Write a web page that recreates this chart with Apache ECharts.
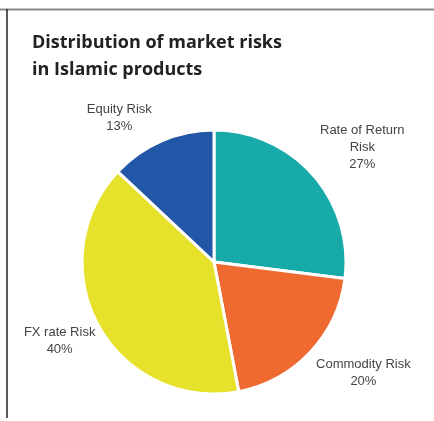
<!DOCTYPE html>
<html>
<head>
<meta charset="utf-8">
<script src="https://cdn.jsdelivr.net/npm/echarts@6/dist/echarts.min.js"></script>
<style>
html,body{margin:0;padding:0;background:#fff;}
#c{width:434px;height:421px;}
</style>
</head>
<body>
<div id="c"></div>
<script>
const categories = ['Rate of Return\nRisk', 'Commodity Risk', 'FX rate Risk', 'Equity Risk'];
const values = [27, 20, 40, 13];
const colors = ['#17aaa8', '#ef6a30', '#e6e22b', '#2157a6'];
const titleLines = ['Distribution of market risks', 'in Islamic products'];

const labelShift = [[12, 7], [17, -13], [7, -8], [-21, 25]];

const data = categories.map((c, i) => ({ name: c, value: values[i], itemStyle: { color: colors[i] } }));

const chart = echarts.init(document.getElementById('c'), null, { renderer: 'canvas' });
chart.setOption({
  animation: false,
  title: {
    text: titleLines.join('\n'),
    left: 27, top: 24,
    textStyle: { fontFamily: 'Open Sans', fontWeight: 700, fontSize: 18, color: '#222', lineHeight: 27 }
  },
  graphic: [
    { type: 'line', shape: { x1: 0, y1: 9.5, x2: 434, y2: 9.5 }, style: { stroke: '#8a8a8a', lineWidth: 2 } },
    { type: 'line', shape: { x1: 7, y1: 9, x2: 7, y2: 418 }, style: { stroke: '#222', lineWidth: 1.5 } }
  ],
  series: [
    {
      type: 'pie',
      center: [214, 262],
      radius: [0, 132],
      startAngle: 90,
      clockwise: true,
      silent: true,
      label: { show: false },
      labelLine: { show: false },
      itemStyle: { borderColor: '#fff', borderWidth: 3 },
      data: data
    },
    {
      type: 'pie',
      center: [213, 261],
      radius: [160, 200],
      startAngle: 90,
      clockwise: true,
      silent: true,
      itemStyle: { color: 'rgba(0,0,0,0)' },
      label: {
        show: true, position: 'inside',
        formatter: p => p.name + '\n' + p.value + '%',
        fontFamily: 'Liberation Sans', fontSize: 13, color: '#444', lineHeight: 17, align: 'center'
      },
      labelLine: { show: false },
      labelLayout: p => ({ dx: labelShift[p.dataIndex][0], dy: labelShift[p.dataIndex][1] }),
      data: categories.map((c, i) => ({ name: c, value: values[i] }))
    }
  ]
});
</script>
</body>
</html>
